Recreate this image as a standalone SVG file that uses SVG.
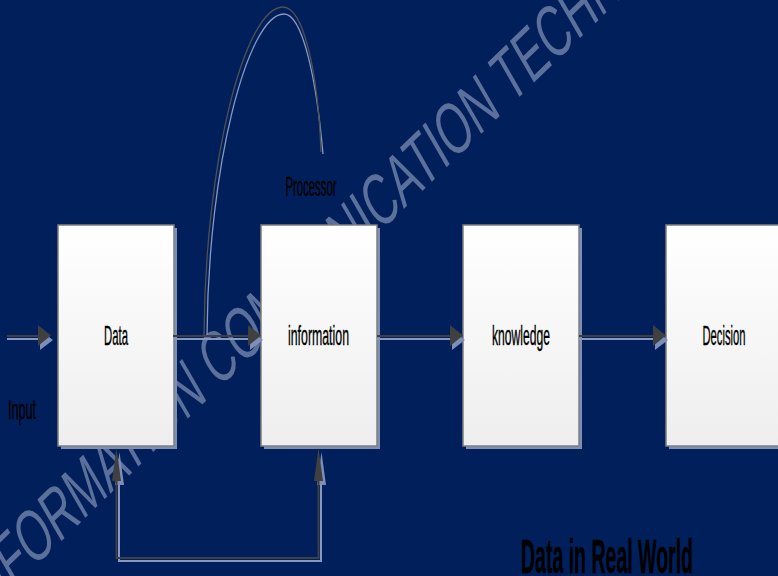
<svg xmlns="http://www.w3.org/2000/svg" width="778" height="576" viewBox="0 0 778 576">
<defs>
<linearGradient id="boxGrad" x1="0" y1="0" x2="0" y2="1">
<stop offset="0" stop-color="#ffffff"/>
<stop offset="1" stop-color="#eeeeee"/>
</linearGradient>
<style>
.box{fill:url(#boxGrad);stroke:#7f7f7f;stroke-width:1.5}
.shadow{fill:#7f8fb3}
.lbl{font-family:"Liberation Sans",Arial,sans-serif;font-size:28px;fill:#000000;stroke:#000000;stroke-width:0.4;text-anchor:middle}
.ln{stroke:#404040;stroke-width:2;fill:none}
.lns{stroke:#8799c0;stroke-width:2;fill:none}
.arc{stroke:#505050;stroke-width:1.3;fill:none}
.arcs{stroke:#8799c0;stroke-width:1.3;fill:none}
.ah{fill:#404040}
.ahs{fill:#7b8fb9}
.wm{font-family:"Liberation Sans",Arial,sans-serif;font-size:70px;fill:#5b719b}
</style>
</defs>
<rect width="778" height="576" fill="#001f5b"/>
<text class="wm" transform="matrix(0.7179,-0.6962,0.5,0.866,-20.4,620.3)" textLength="1063" lengthAdjust="spacingAndGlyphs">INFORMATION COMMUNICATION TECHNOLOGY</text>

<g id="node-data">
<rect class="shadow" x="61" y="228" width="116" height="221"/>
<rect class="box" x="58" y="225" width="116" height="221"/>
<text class="lbl" x="116" y="345" textLength="24" lengthAdjust="spacingAndGlyphs">Data</text>
</g>
<g id="node-information">
<rect class="shadow" x="264" y="228" width="116" height="221"/>
<rect class="box" x="261" y="225" width="116" height="221"/>
<text class="lbl" x="318.5" y="345" textLength="61" lengthAdjust="spacingAndGlyphs">information</text>
</g>
<g id="node-knowledge">
<rect class="shadow" x="466" y="228" width="116" height="221"/>
<rect class="box" x="463" y="225" width="116" height="221"/>
<text class="lbl" x="521" y="345" textLength="58" lengthAdjust="spacingAndGlyphs">knowledge</text>
</g>
<g id="node-decision">
<rect class="shadow" x="669" y="228" width="116" height="221"/>
<rect class="box" x="666" y="225" width="116" height="221"/>
<text class="lbl" x="724" y="345" textLength="43" lengthAdjust="spacingAndGlyphs">Decision</text>
</g>

<g id="connectors">
<path class="lns" d="M7,339 H40 M173,339 H250 M377,339 H452 M579,339 H655"/>
<path class="lns" d="M119,484 V561 H321 V484"/>
<path class="arcs" d="M207,336 C208,165 248,14 284,14 C302,14 316,75 323,154"/>
<g class="ahs">
<polygon points="40,330 40,350 53,340"/>
<polygon points="250,330 250,350 263,340"/>
<polygon points="452,330 452,350 465,340"/>
<polygon points="655,330 655,350 668,340"/>
<polygon points="115,485 124,485 119.5,452"/>
<polygon points="317,485 326,485 321.5,452"/>
</g>
<path class="ln" d="M7,336 H38 M173,336 H248 M377,336 H450 M579,336 H653"/>
<path class="ln" d="M116.5,481 V558 H318.5 V481"/>
<path class="arc" d="M204,336 C205,160 245,7 283,7 C303,7 318,70 321,152"/>
<g class="ah">
<polygon points="38,325 38,346 51,335.5"/>
<polygon points="248,325 248,346 261,335.5"/>
<polygon points="450,325 450,346 463,335.5"/>
<polygon points="653,325 653,346 666,335.5"/>
<polygon points="112,481 121,481 116.5,448"/>
<polygon points="314,481 323,481 318.5,448"/>
</g>
</g>

<g id="labels">
<text class="lbl" x="311" y="196" textLength="51" lengthAdjust="spacingAndGlyphs">Processor</text>
<text class="lbl" x="22" y="419" textLength="28" lengthAdjust="spacingAndGlyphs">Input</text>
<text class="lbl" x="607" y="573" style="font-size:49px;font-weight:bold" textLength="172" lengthAdjust="spacingAndGlyphs">Data in Real World</text>
</g>
</svg>
